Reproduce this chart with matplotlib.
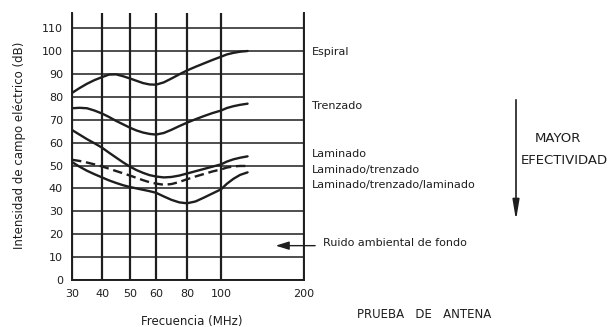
import numpy as np
import matplotlib
matplotlib.use("Agg")
import matplotlib.pyplot as plt

# Frequency axis: tick values and their spacing along the axis
freq_ticks = [30, 40, 50, 60, 80, 100, 200]
tick_spacing = [0, 30, 58, 84, 115, 149, 232]

# Field strength (dB) of each cable type versus frequency (MHz)
freq = [30, 32.5, 35, 37.5, 40, 42.5, 45, 47.5, 50, 52.5, 55, 57.5, 60,
        65, 70, 75, 80, 85, 90, 95, 100, 107, 115, 123, 132]
espiral = [81.7, 83.8, 85.7, 87.3, 88.6, 89.7, 89.8, 89, 88, 87, 86, 85.4, 85.3,
           86.3, 88, 89.8, 91.5, 93.1, 94.6, 96.1, 97.5, 98.5, 99.2, 99.7, 100]
trenzado = [75, 75.2, 75, 74, 72.7, 71.2, 69.5, 68, 66.5, 65.3, 64.4, 63.8, 63.5,
            64.2, 65.6, 67.2, 68.7, 70.2, 71.6, 72.9, 74, 75.1, 75.9, 76.5, 77]
laminado = [65.5, 63.5, 61.5, 59.7, 57.8, 55.6, 53.5, 51.4, 49.5, 48, 46.8, 45.8, 45.2,
            44.8, 45, 45.6, 46.5, 47.5, 48.5, 49.5, 50.5, 51.7, 52.7, 53.4, 54]
lam_trenz = [52.5, 52, 51.3, 50.5, 49.6, 48.6, 47.6, 46.6, 45.6, 44.6, 43.6, 42.7, 42.1,
             41.6, 41.9, 42.8, 44, 45.2, 46.3, 47.4, 48.3, 49.1, 49.6, 49.8, 49.8]
lam_trenz_lam = [51.5, 49.5, 47.7, 46.2, 44.8, 43.5, 42.4, 41.4, 40.6, 40, 39.4, 38.8, 38.1,
                 36.5, 35, 33.9, 33.5, 34.3, 36, 37.8, 39.6, 42, 44.2, 45.9, 47]

y_ticks = list(range(0, 111, 10))
noise_level = 15

series_labels = ["Espiral", "Trenzado", "Laminado", "Laminado/trenzado",
                 "Laminado/trenzado/laminado"]
label_levels = [99.5, 76, 55, 48, 41.5]

ink = "#1e1e1e"
font = "DejaVu Sans"

fig = plt.figure(figsize=(6.16, 3.27), dpi=100)
ax = fig.add_axes([72 / 616, 1 - 280 / 327, 232 / 616, 267 / 327])


def fwd(x):
    return np.interp(x, freq_ticks, tick_spacing)


def inv(u):
    return np.interp(u, tick_spacing, freq_ticks)


ax.set_xscale("function", functions=(fwd, inv))
ax.set_xlim(30, 200)
ax.set_ylim(0, 116.6)

ax.set_xticks(freq_ticks)
ax.set_xticklabels([str(v) for v in freq_ticks])
ax.xaxis.set_minor_locator(matplotlib.ticker.NullLocator())
ax.set_yticks(y_ticks)
ax.set_yticklabels([str(v) for v in y_ticks])
ax.tick_params(length=0, labelsize=8, colors=ink, pad=6.5)
for lab in ax.get_xticklabels() + ax.get_yticklabels():
    lab.set_family(font)

ax.xaxis.grid(True, color=ink, lw=1.6)
ax.yaxis.grid(True, color=ink, lw=1.1)
ax.set_axisbelow(True)
for side in ("left", "bottom", "right"):
    ax.spines[side].set_color(ink)
    ax.spines[side].set_linewidth(1.4)
ax.spines["top"].set_visible(False)

curve_kw = dict(color=ink, lw=1.7, solid_joinstyle="round", solid_capstyle="round")
ax.plot(freq, espiral, **curve_kw)
ax.plot(freq, trenzado, **curve_kw)
ax.plot(freq, laminado, **curve_kw)
ax.plot(freq, lam_trenz, color=ink, lw=1.7, ls=(0, (4, 2)))
ax.plot(freq, lam_trenz_lam, **curve_kw)

yt = ax.get_yaxis_transform()
for text, lvl in zip(series_labels, label_levels):
    ax.text(1.034, lvl, text, transform=yt, fontsize=8, family=font,
            color=ink, va="center", ha="left", clip_on=False)

ax.annotate("", xy=(0.866, noise_level), xycoords=yt,
            xytext=(1.06, noise_level), textcoords=yt,
            arrowprops=dict(arrowstyle="-|>,head_length=0.8,head_width=0.25",
                            color=ink, lw=1.0))
ax.text(1.082, noise_level + 1.2, "Ruido ambiental de fondo", transform=yt,
        fontsize=8, family=font, color=ink, va="center", ha="left")

fig.patches.append(matplotlib.patches.FancyArrowPatch(
    (516 / 616, 1 - 97 / 327), (516 / 616, 1 - 223 / 327),
    transform=fig.transFigure, arrowstyle="-|>,head_length=1.2,head_width=0.2",
    color=ink, lw=1.2, mutation_scale=10))
fig.text(558 / 616, 1 - 138 / 327, "MAYOR", fontsize=9.5, family=font,
         color=ink, ha="center", va="center")
fig.text(521 / 616, 1 - 161 / 327, "EFECTIVIDAD", fontsize=9.5, family=font,
         color=ink, ha="left", va="center")

fig.text(424 / 616, 1 - 315 / 327, "PRUEBA   DE   ANTENA", fontsize=8.5,
         family=font, color=ink, ha="center", va="center")
fig.text(192 / 616, 1 - 321 / 327, "Frecuencia (MHz)", fontsize=8.5,
         family=font, color=ink, ha="center", va="center")
fig.text(20 / 616, 1 - 145 / 327, "Intensidad de campo eléctrico (dB)",
         fontsize=8.5, family=font, color=ink, ha="center", va="center",
         rotation=90)

fig.savefig("out.png", dpi=100, facecolor="white")
